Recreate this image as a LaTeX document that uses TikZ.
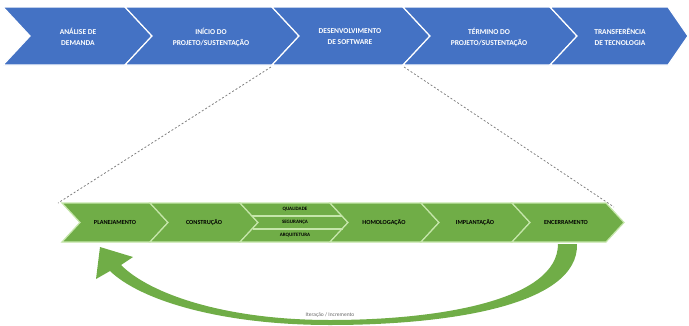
\documentclass[tikz,border=0pt]{standalone}
\usepackage{fontspec}
\setmainfont{Carlito}
\definecolor{bluebar}{RGB}{68,114,196}
\definecolor{greenbar}{RGB}{112,173,71}
\definecolor{greendark}{RGB}{84,140,50}
\definecolor{greenline}{RGB}{197,230,170}
\tikzset{
  phase/.style={fill=bluebar, draw=white, line width=1.2pt, line join=miter},
  phasetext/.style={text=white, align=center, font=\fontsize{7.5}{11}\selectfont\bfseries},
  stage/.style={fill=greenbar, draw=greenline, line width=1.2pt, line join=miter},
  stagetext/.style={text=black, align=center, font=\fontsize{6.2}{7}\selectfont\bfseries},
  subtext/.style={text=black, font=\fontsize{5}{6}\selectfont\bfseries},
  zoomline/.style={draw=gray, line width=0.8pt, dash pattern=on 2pt off 2pt}
}
\begin{document}
\begin{tikzpicture}[x=1pt, y=-1pt]
            \useasboundingbox (0,0) rectangle (689,325);

            % fases do projeto
            \filldraw[phase] (3,7) -- (125,7) -- (152,36) -- (125,65) -- (3,65) -- (30,36) -- cycle;
            \filldraw[phase] (125,7) -- (272,7) -- (299,36) -- (272,65) -- (125,65) -- (152,36) -- cycle;
            \filldraw[phase] (272,7) -- (403,7) -- (430,36) -- (403,65) -- (272,65) -- (299,36) -- cycle;
            \filldraw[phase] (403,7) -- (550,7) -- (577,36) -- (550,65) -- (403,65) -- (430,36) -- cycle;
            \filldraw[phase] (550,7) -- (668,7) -- (688,36) -- (668,65) -- (550,65) -- (577,36) -- cycle;

            \node[phasetext] (analise) at (78,37) {ANÁLISE DE\\DEMANDA};
            \node[phasetext] (inicio) at (211,37) {INÍCIO DO\\PROJETO/SUSTENTAÇÃO};
            \node[phasetext] (desenv) at (350,37) {DESENVOLVIMENTO\\DE SOFTWARE};
            \node[phasetext] (termino) at (489,37) {TÉRMINO DO\\PROJETO/SUSTENTAÇÃO};
            \node[phasetext] (transf) at (620,37) {TRANSFERÊNCIA\\DE TECNOLOGIA};

            % etapas do desenvolvimento
            \filldraw[stage] (62,203) -- (150,203) -- (168,222.5) -- (150,242) -- (62,242) -- (80,222.5) -- cycle;
            \filldraw[stage] (150,203) -- (240,203) -- (258,222.5) -- (240,242) -- (150,242) -- (168,222.5) -- cycle;
            \filldraw[stage] (240,203) -- (330,203) -- (348,222.5) -- (330,242) -- (240,242) -- (258,222.5) -- cycle;
            \filldraw[stage] (330,203) -- (421,203) -- (439,222.5) -- (421,242) -- (330,242) -- (348,222.5) -- cycle;
            \filldraw[stage] (421,203) -- (512,203) -- (530,222.5) -- (512,242) -- (421,242) -- (439,222.5) -- cycle;
            \filldraw[stage] (512,203) -- (606,203) -- (624,222.5) -- (606,242) -- (512,242) -- (530,222.5) -- cycle;

            \draw[greenline, line width=1.2pt] (251.5,216) -- (341.5,216);
            \draw[greenline, line width=1.2pt] (252.5,229) -- (342.5,229);

            \node[stagetext] (planej) at (115,222.5) {PLANEJAMENTO};
            \node[stagetext] (constr) at (204,222.5) {CONSTRUÇÃO};
            \node[subtext] (qualid) at (295,209.5) {QUALIDADE};
            \node[subtext] (segur) at (295,222.5) {SEGURANÇA};
            \node[subtext] (arquit) at (295,235.5) {ARQUITETURA};
            \node[stagetext] (homolog) at (384,222.5) {HOMOLOGAÇÃO};
            \node[stagetext] (implant) at (475,222.5) {IMPLANTAÇÃO};
            \node[stagetext] (encerr) at (566,222.5) {ENCERRAMENTO};

            % linhas de detalhe
            \coordinate (zl1) at (271,67);
            \coordinate (zr1) at (404,67);
            \coordinate (zl2) at (58,203);
            \coordinate (zr2) at (614,207);
            \draw[zoomline] (zl1) -- (zl2);
            \draw[zoomline] (zr1) -- (zr2);

            % seta de iteracao
            \fill[greenbar] (577,244) .. controls (579,305) and (450,325) .. (330,325)
                .. controls (220,325) and (140,300) .. (110,271)
                -- (96,279) -- (100,247) -- (133,257) -- (121,265)
                .. controls (150,294) and (225,320) .. (330,320)
                .. controls (440,320) and (558,300) .. (558,244) -- cycle;

            \node[text=gray!80!black, font=\fontsize{5.5}{6.5}\selectfont] (iter) at (330,315) {Iteração / Incremento};
        \end{tikzpicture}
\end{document}
